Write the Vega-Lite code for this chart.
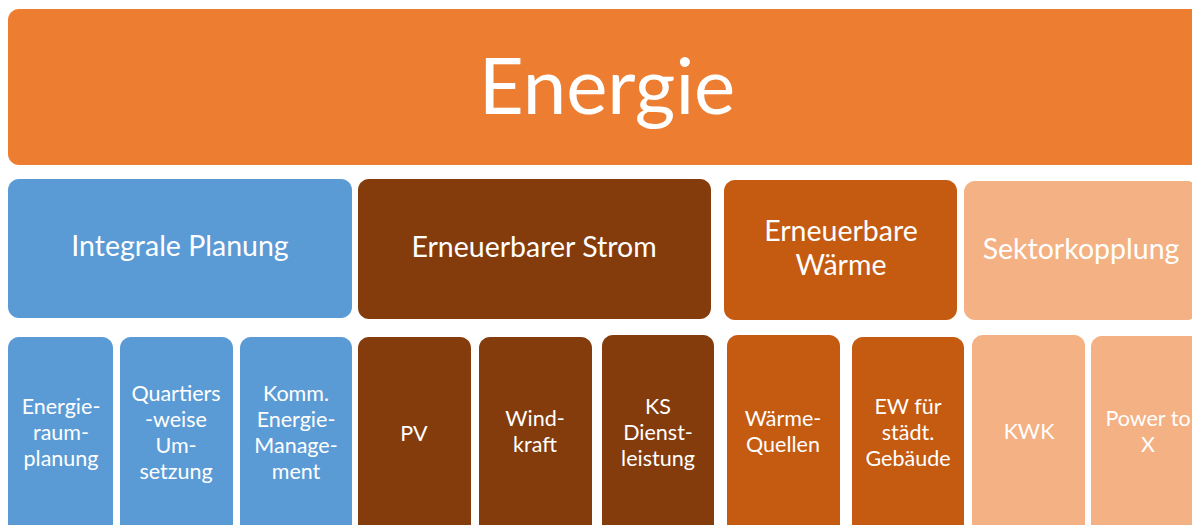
{
  "$schema": "https://vega.github.io/schema/vega-lite/v6.json",
  "autosize": {"type": "fit", "contains": "padding"},
  "width": 1192,
  "height": 525,
  "padding": 0,
  "background": "white",
  "config": {"view": {"stroke": null}},
  "datasets": {
    "boxes": [
      {"name": "Energie", "group": "top", "x": 8, "x2": 1202, "y": 9, "y2": 165},
      {"name": "Integrale Planung", "group": "blue", "x": 8, "x2": 352, "y": 179, "y2": 318},
      {"name": "Erneuerbarer Strom", "group": "brown", "x": 358, "x2": 711, "y": 179, "y2": 319},
      {"name": "Erneuerbare Wärme", "group": "rust", "x": 724, "x2": 957, "y": 180, "y2": 320},
      {"name": "Sektorkopplung", "group": "peach", "x": 964, "x2": 1198, "y": 181, "y2": 320},
      {"name": "Energieraumplanung", "group": "blue", "x": 8, "x2": 113, "y": 337, "y2": 540},
      {"name": "Quartiersweise Umsetzung", "group": "blue", "x": 120, "x2": 233, "y": 337, "y2": 540},
      {"name": "Komm. Energie-Management", "group": "blue", "x": 240, "x2": 352, "y": 337, "y2": 540},
      {"name": "PV", "group": "brown", "x": 358, "x2": 471, "y": 337, "y2": 540},
      {"name": "Windkraft", "group": "brown", "x": 479, "x2": 592, "y": 337, "y2": 540},
      {"name": "KS Dienstleistung", "group": "brown", "x": 602, "x2": 714, "y": 335, "y2": 540},
      {"name": "Wärme-Quellen", "group": "rust", "x": 727, "x2": 840, "y": 335, "y2": 540},
      {"name": "EW für städt. Gebäude", "group": "rust", "x": 852, "x2": 964, "y": 337, "y2": 540},
      {"name": "KWK", "group": "peach", "x": 972, "x2": 1085, "y": 335, "y2": 540},
      {"name": "Power to X", "group": "peach", "x": 1091, "x2": 1205, "y": 336, "y2": 540}
    ],
    "labels": [
      {"label": "Energie", "level": 0, "cx": 607, "cy": 91},
      {"label": "Integrale Planung", "level": 1, "cx": 180, "cy": 247},
      {"label": "Erneuerbarer Strom", "level": 1, "cx": 534, "cy": 248},
      {"label": "Erneuerbare\nWärme", "level": 1, "cx": 841, "cy": 232},
      {"label": "Sektorkopplung", "level": 1, "cx": 1081, "cy": 250},
      {"label": "Energie-\nraum-\nplanung", "level": 2, "cx": 61, "cy": 408},
      {"label": "Quartiers\n-weise\nUm-\nsetzung", "level": 2, "cx": 176, "cy": 395},
      {"label": "Komm.\nEnergie-\nManage-\nment", "level": 2, "cx": 296, "cy": 395},
      {"label": "PV", "level": 2, "cx": 414, "cy": 435},
      {"label": "Wind-\nkraft", "level": 2, "cx": 535, "cy": 420},
      {"label": "KS\nDienst-\nleistung", "level": 2, "cx": 658, "cy": 408},
      {"label": "Wärme-\nQuellen", "level": 2, "cx": 783, "cy": 420},
      {"label": "EW für\nstädt.\nGebäude", "level": 2, "cx": 908, "cy": 408},
      {"label": "KWK", "level": 2, "cx": 1029, "cy": 433},
      {"label": "Power to\nX", "level": 2, "cx": 1148, "cy": 420}
    ]
  },
  "layer": [
    {
      "data": {"name": "boxes"},
      "mark": {"type": "rect", "cornerRadius": 11, "clip": true},
      "encoding": {
        "x": {"field": "x", "type": "quantitative", "scale": {"domain": [0, 1192], "nice": false, "zero": false}, "axis": null},
        "x2": {"field": "x2"},
        "y": {"field": "y", "type": "quantitative", "scale": {"domain": [0, 525], "nice": false, "zero": false, "reverse": true}, "axis": null},
        "y2": {"field": "y2"},
        "color": {"field": "group", "type": "nominal", "legend": null,
          "scale": {"domain": ["top", "blue", "brown", "rust", "peach"], "range": ["#ED7D31", "#5B9BD5", "#843C0C", "#C55A11", "#F4B183"]}}
      }
    },
    {
      "data": {"name": "labels"},
      "transform": [{"filter": "datum.level == 0"}],
      "mark": {"type": "text", "font": "Lato", "fontSize": 78, "color": "white", "align": "center", "baseline": "middle", "clip": true},
      "encoding": {
        "x": {"field": "cx", "type": "quantitative"},
        "y": {"field": "cy", "type": "quantitative"},
        "text": {"field": "label"}
      }
    },
    {
      "data": {"name": "labels"},
      "transform": [{"filter": "datum.level == 1"}],
      "mark": {"type": "text", "font": "Lato", "fontSize": 28.5, "lineHeight": 34, "lineBreak": "\n", "color": "white", "align": "center", "baseline": "middle", "clip": true},
      "encoding": {
        "x": {"field": "cx", "type": "quantitative"},
        "y": {"field": "cy", "type": "quantitative"},
        "text": {"field": "label"}
      }
    },
    {
      "data": {"name": "labels"},
      "transform": [{"filter": "datum.level == 2"}],
      "mark": {"type": "text", "font": "Lato", "fontSize": 21.5, "lineHeight": 26, "lineBreak": "\n", "color": "white", "align": "center", "baseline": "middle", "clip": true},
      "encoding": {
        "x": {"field": "cx", "type": "quantitative"},
        "y": {"field": "cy", "type": "quantitative"},
        "text": {"field": "label"}
      }
    }
  ]
}
